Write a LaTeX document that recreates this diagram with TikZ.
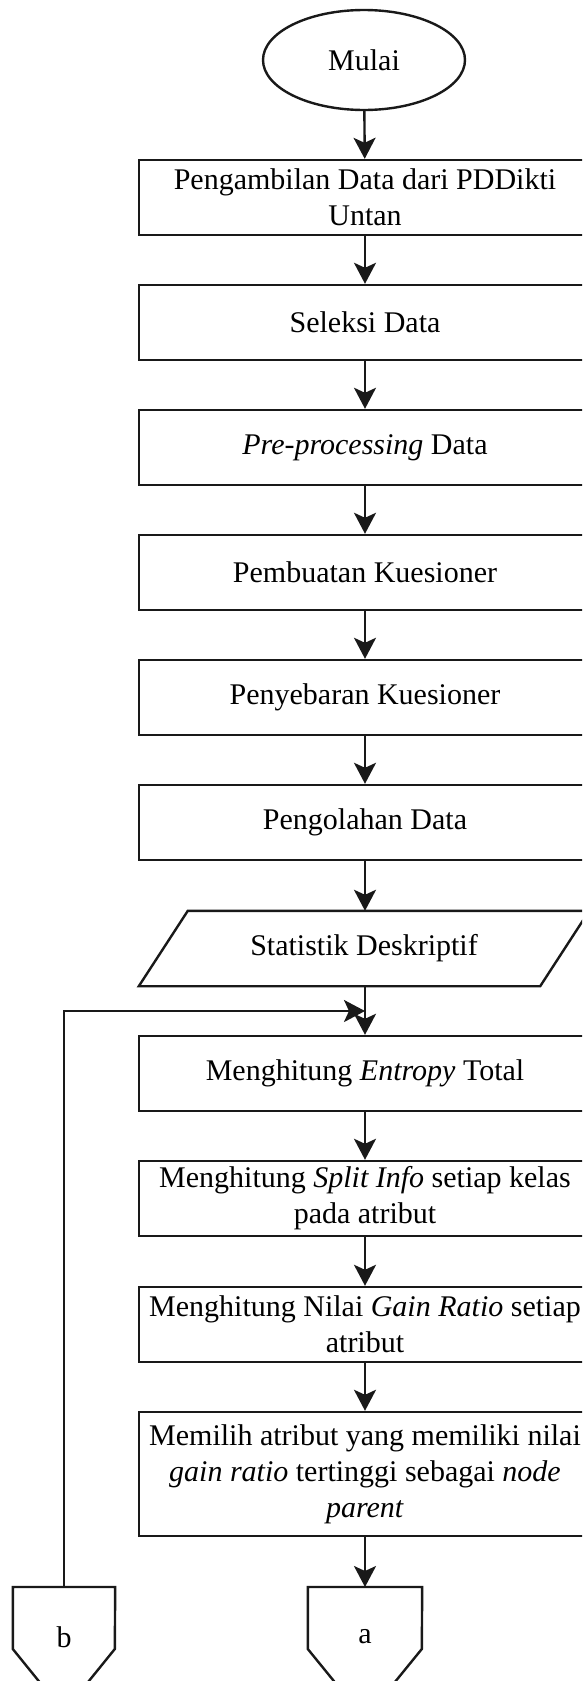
\documentclass[tikz,border=0pt]{standalone}
\usepackage{fontspec}
\setmainfont{Liberation Serif}
\usetikzlibrary{shapes.geometric,arrows.meta}
\tikzset{
  line/.style={line width=2.4pt, draw=black!90},
  arr/.style={line, -{Stealth[length=21pt,width=22pt,inset=5pt]}},
  procbox/.style={line, rectangle, minimum width=452pt, minimum height=75pt, inner sep=0pt, align=center, font=\fontsize{30}{36}\selectfont, fill=white},
  term/.style={line, ellipse, minimum width=202pt, minimum height=100pt, inner sep=0pt, font=\fontsize{30}{36}\selectfont},
  plain/.style={inner sep=0pt, align=center, font=\fontsize{30}{36}\selectfont},
}
\begin{document}
\begin{tikzpicture}[x=1pt,y=-1pt]
\useasboundingbox (0,0) rectangle (582,1681);
\clip (0,0) rectangle (582,1681);
\fill[white] (0,0) rectangle (582,1681);

\node[term] (mulai) at (364,60) {Mulai};
\node[procbox] (b1) at (365,197.5) {Pengambilan Data dari PDDikti\\Untan};
\node[procbox] (b2) at (365,322.5) {Seleksi Data};
\node[procbox] (b3) at (365,447.5) {\textit{Pre-processing} Data};
\node[procbox] (b4) at (365,572.5) {Pembuatan Kuesioner};
\node[procbox] (b5) at (365,697.5) {Penyebaran Kuesioner};
\node[procbox] (b6) at (365,822.5) {Pengolahan Data};
\node[plain, minimum width=401pt, minimum height=75pt] (stat) at (364,948.5) {Statistik Deskriptif};
\draw[line] ([xshift=24.5pt]stat.north west) -- ([xshift=24.5pt]stat.north east) -- ([xshift=-24.5pt]stat.south east) -- ([xshift=-24.5pt]stat.south west) -- cycle;
\node[procbox] (b7) at (365,1073.5) {Menghitung \textit{Entropy} Total};
\node[procbox] (b8) at (365,1198.5) {Menghitung \textit{Split Info} setiap kelas\\pada atribut};
\node[procbox] (b9) at (365,1324.5) {Menghitung Nilai \textit{Gain Ratio} setiap\\atribut};
\node[procbox, minimum height=124pt] (b10) at (365,1474) {Memilih atribut yang memiliki nilai\\\textit{gain ratio} tertinggi sebagai \textit{node}\\\textit{parent}};

% off-page connectors
\node[plain, minimum width=114pt, minimum height=62pt, anchor=north] (ca) at (365,1587) {};
\draw[line] (ca.north west) -- ++(0,62) -- ++(57,70) -- ++(57,-70) -- (ca.north east) -- cycle;
\node[plain] (catext) at (365,1637) {a};
\node[plain, minimum width=102pt, minimum height=62pt, anchor=north] (cb) at (64,1587) {};
\draw[line] (cb.north west) -- ++(0,62) -- ++(51,63) -- ++(51,-63) -- (cb.north east) -- cycle;
\node[plain] (cbtext) at (64,1637) {b};

\coordinate (join) at (365,1011);

\draw[arr] (mulai) -- (b1);
\draw[arr] (b1) -- (b2);
\draw[arr] (b2) -- (b3);
\draw[arr] (b3) -- (b4);
\draw[arr] (b4) -- (b5);
\draw[arr] (b5) -- (b6);
\draw[arr] (b6.south) -- (b6.south |- stat.north);
\draw[arr] (b7.north |- stat.south) -- (b7.north);
\draw[arr] (b7) -- (b8);
\draw[arr] (b8) -- (b9);
\draw[arr] (b9) -- (b10);
\draw[arr] (b10.south) -- (ca.north);
\draw[arr] (cb.north) |- (join);
\end{tikzpicture}
\end{document}
